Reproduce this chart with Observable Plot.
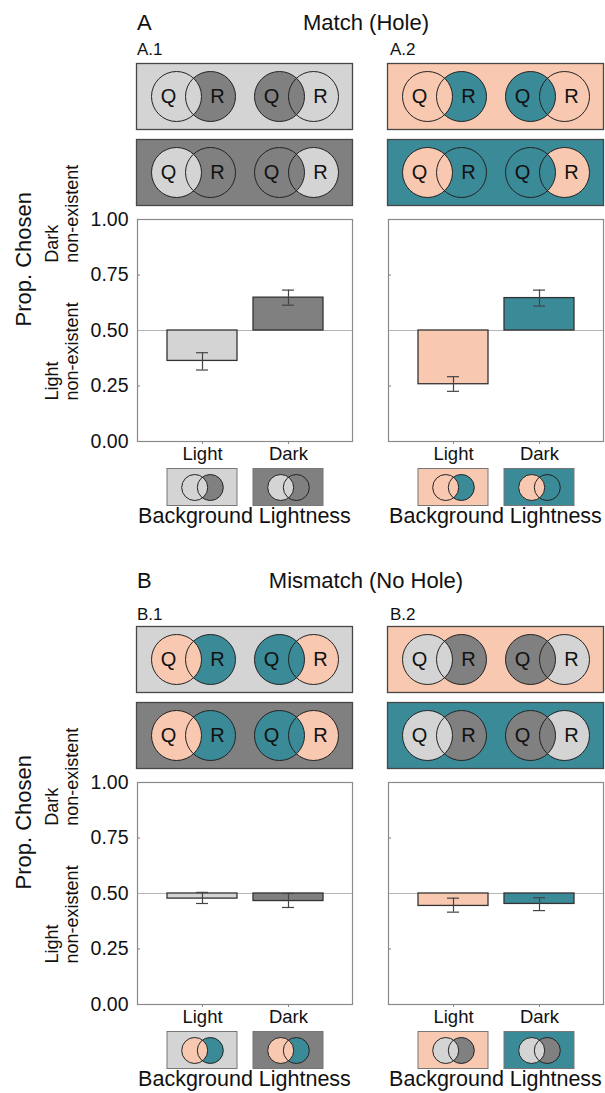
<!DOCTYPE html>
<html><head><meta charset="utf-8">
<script src="https://cdn.jsdelivr.net/npm/d3@7"></script>
<script src="https://cdn.jsdelivr.net/npm/@observablehq/plot@0.6"></script>
<style>
html,body{margin:0;padding:0;background:#fff;overflow:hidden}
#fig{position:relative;width:605px;height:1093px;font-family:"Liberation Sans",Arial,Helvetica,sans-serif;color:#111}
.t{position:absolute;line-height:1;white-space:nowrap}
</style></head><body><div id="fig"></div>
<script>
// ---------- data ----------
const categories = ["Light", "Dark"];
const yTicks = [0, 0.25, 0.5, 0.75, 1];
const sideLabels = ["Dark\nnon-existent", "Light\nnon-existent"];
const pairs = ["1", "2"];

const meanA1 = [0.363, 0.648], loA1 = [0.322, 0.614], hiA1 = [0.400, 0.682];
const meanA2 = [0.258, 0.646], loA2 = [0.226, 0.610], hiA2 = [0.292, 0.682];
const meanB1 = [0.477, 0.466], loB1 = [0.455, 0.437], hiB1 = [0.505, 0.500];
const meanB2 = [0.444, 0.453], loB2 = [0.416, 0.423], hiB2 = [0.479, 0.481];

const grayLight = "#d4d4d4", grayDark = "#808080", peach = "#f9c8b0", teal = "#3b8a98";
const FONT = '"Liberation Sans", Arial, Helvetica, sans-serif';

const fig = document.getElementById("fig");
function place(el, left, top) {
  el.style.position = "absolute"; el.style.left = left + "px"; el.style.top = top + "px";
  fig.appendChild(el);
}
function label(text, left, top, size, opts = {}) {
  const d = document.createElement("div");
  d.className = "t"; d.textContent = text; d.style.fontSize = size + "px";
  if (opts.width) { d.style.width = opts.width + "px"; d.style.textAlign = "center"; }
  place(d, left, top);
}
const baseStyle = {fontFamily: FONT, background: "transparent", overflow: "visible", maxWidth: "none", color: "#111"};

// Venn box: background fill, two pairs of circles (Q, R)
function vennBox(bg, light, dark) {
  const circ = [{pair: "1", q: light, r: dark}, {pair: "2", q: dark, r: light}];
  return Plot.plot({
    width: 218, height: 68, margin: 1,
    x: {type: "point", domain: pairs, padding: 0.54, axis: null},
    color: {type: "identity"},
    style: baseStyle,
    marks: [
      Plot.frame({fill: bg, stroke: "#474747", strokeWidth: 1.3}),
      Plot.dot(circ, {x: "pair", dx: 17, r: 25, fill: d => d.r}),
      Plot.dot(circ, {x: "pair", dx: -17, r: 25, fill: d => d.q}),
      Plot.dot(circ, {x: "pair", dx: 17, r: 25, fill: "none", stroke: "#222", strokeWidth: 1}),
      Plot.dot(circ, {x: "pair", dx: -17, r: 25, fill: "none", stroke: "#222", strokeWidth: 1}),
      Plot.text(circ, {x: "pair", dx: -25, text: () => "Q", fontSize: 20, fill: "#111"}),
      Plot.text(circ, {x: "pair", dx: 24, text: () => "R", fontSize: 20, fill: "#111"})
    ]
  });
}

function barPlot(mean, lo, hi, fills, showY) {
  const data = categories.map((c, i) => ({cat: c, mean: mean[i], lo: lo[i], hi: hi[i], fill: fills[i]}));
  const mL = showY ? 137 : 2;
  return Plot.plot({
    width: mL + 215 + 2, height: 2 + 222 + 30,
    marginTop: 2, marginBottom: 30, marginLeft: mL, marginRight: 2,
    style: {...baseStyle, fontSize: "18px"},
    x: {domain: categories, paddingInner: 0.19, paddingOuter: 0.34, label: null},
    y: {domain: [0, 1], label: null, axis: showY ? undefined : null},
    color: {type: "identity"},
    marks: [
      Plot.ruleY([0.5], {stroke: "#b5b5b5", strokeWidth: 1.2}),
      Plot.barY(data, {x: "cat", y1: () => 0.5, y2: "mean", fill: "fill", stroke: "#333", strokeWidth: 1.3}),
      Plot.ruleX(data, {x: "cat", y1: "lo", y2: "hi", stroke: "#444", strokeWidth: 1.2}),
      Plot.tickY(data, {x: "cat", y: "lo", insetLeft: 29, insetRight: 29, stroke: "#444", strokeWidth: 1.2}),
      Plot.tickY(data, {x: "cat", y: "hi", insetLeft: 29, insetRight: 29, stroke: "#444", strokeWidth: 1.2}),
      Plot.tickY([0.25, 0.75], {y: d => d, insetRight: 212, stroke: "#777", strokeWidth: 1}),
      Plot.axisX({tickSize: 3, tickPadding: 2, fontSize: 18.5, stroke: "#888"}),
      showY ? Plot.axisY({ticks: yTicks, tickFormat: d3.format(".2f"), tickSize: 0, tickPadding: 9, fontSize: 19.5}) : null,
      showY ? Plot.text(sideLabels, {frameAnchor: "left", y: (d, i) => i === 0 ? 0.805 : 0.185, dx: -76, rotate: -90,
        text: d => d, fontSize: 18, lineHeight: 1.15, fill: "#111"}) : null,
      showY ? Plot.text(["Prop. Chosen"], {frameAnchor: "left", dx: -114, dy: -4, rotate: -90, text: d => d, fontSize: 22, fill: "#111"}) : null,
      Plot.frame({stroke: "#8a8a8a", strokeWidth: 1.2})
    ]
  });
}

function swatches(bgs, light, dark) {
  const data = categories.map((c, i) => ({cat: c, bg: bgs[i]}));
  return Plot.plot({
    width: 215, height: 38, marginLeft: 0, marginRight: 0, marginTop: 0.5, marginBottom: 0.5,
    x: {domain: categories, paddingInner: 0.19, paddingOuter: 0.34, axis: null},
    color: {type: "identity"},
    style: baseStyle,
    marks: [
      Plot.cell(data, {x: "cat", fill: "bg", stroke: "#777", strokeWidth: 1}),
      Plot.dot(data, {x: "cat", dx: 7.8, r: 13, fill: dark}),
      Plot.dot(data, {x: "cat", dx: -7.8, r: 13, fill: light}),
      Plot.dot(data, {x: "cat", dx: 7.8, r: 13, fill: "none", stroke: "#222", strokeWidth: 1}),
      Plot.dot(data, {x: "cat", dx: -7.8, r: 13, fill: "none", stroke: "#222", strokeWidth: 1})
    ]
  });
}

const panels = [
  {id: "A.1", col: 0, row: 0, bg: [grayLight, grayDark], circ: [grayLight, grayDark], mean: meanA1, lo: loA1, hi: hiA1},
  {id: "A.2", col: 1, row: 0, bg: [peach, teal], circ: [peach, teal], mean: meanA2, lo: loA2, hi: hiA2},
  {id: "B.1", col: 0, row: 1, bg: [grayLight, grayDark], circ: [peach, teal], mean: meanB1, lo: loB1, hi: hiB1},
  {id: "B.2", col: 1, row: 1, bg: [peach, teal], circ: [grayLight, grayDark], mean: meanB2, lo: loB2, hi: hiB2}
];

// section titles
label("A", 137, 12, 22);
label("Match (Hole)", 246, 12, 22, {width: 240});
label("B", 137, 570, 22);
label("Mismatch (No Hole)", 246, 570, 22, {width: 240});

for (const p of panels) {
  const off = p.row * 563;
  const frameLeft = p.col === 0 ? 137 : 388;
  label(p.id, p.col === 0 ? 137 : 390, (p.row === 0 ? 41 : 606), 17);
  place(vennBox(p.bg[0], p.circ[0], p.circ[1]), frameLeft - 2, 62 + off);
  place(vennBox(p.bg[1], p.circ[0], p.circ[1]), frameLeft - 2, 138 + off);
  const bp = barPlot(p.mean, p.lo, p.hi, p.bg, p.col === 0);
  place(bp, p.col === 0 ? 0 : 386, 216.5 + off);
  place(swatches(p.bg, p.circ[0], p.circ[1]), frameLeft, 467.5 + off);
  label("Background Lightness", frameLeft - 20, 506.3 + off, 21.5, {width: 255});
}
</script></body></html>
